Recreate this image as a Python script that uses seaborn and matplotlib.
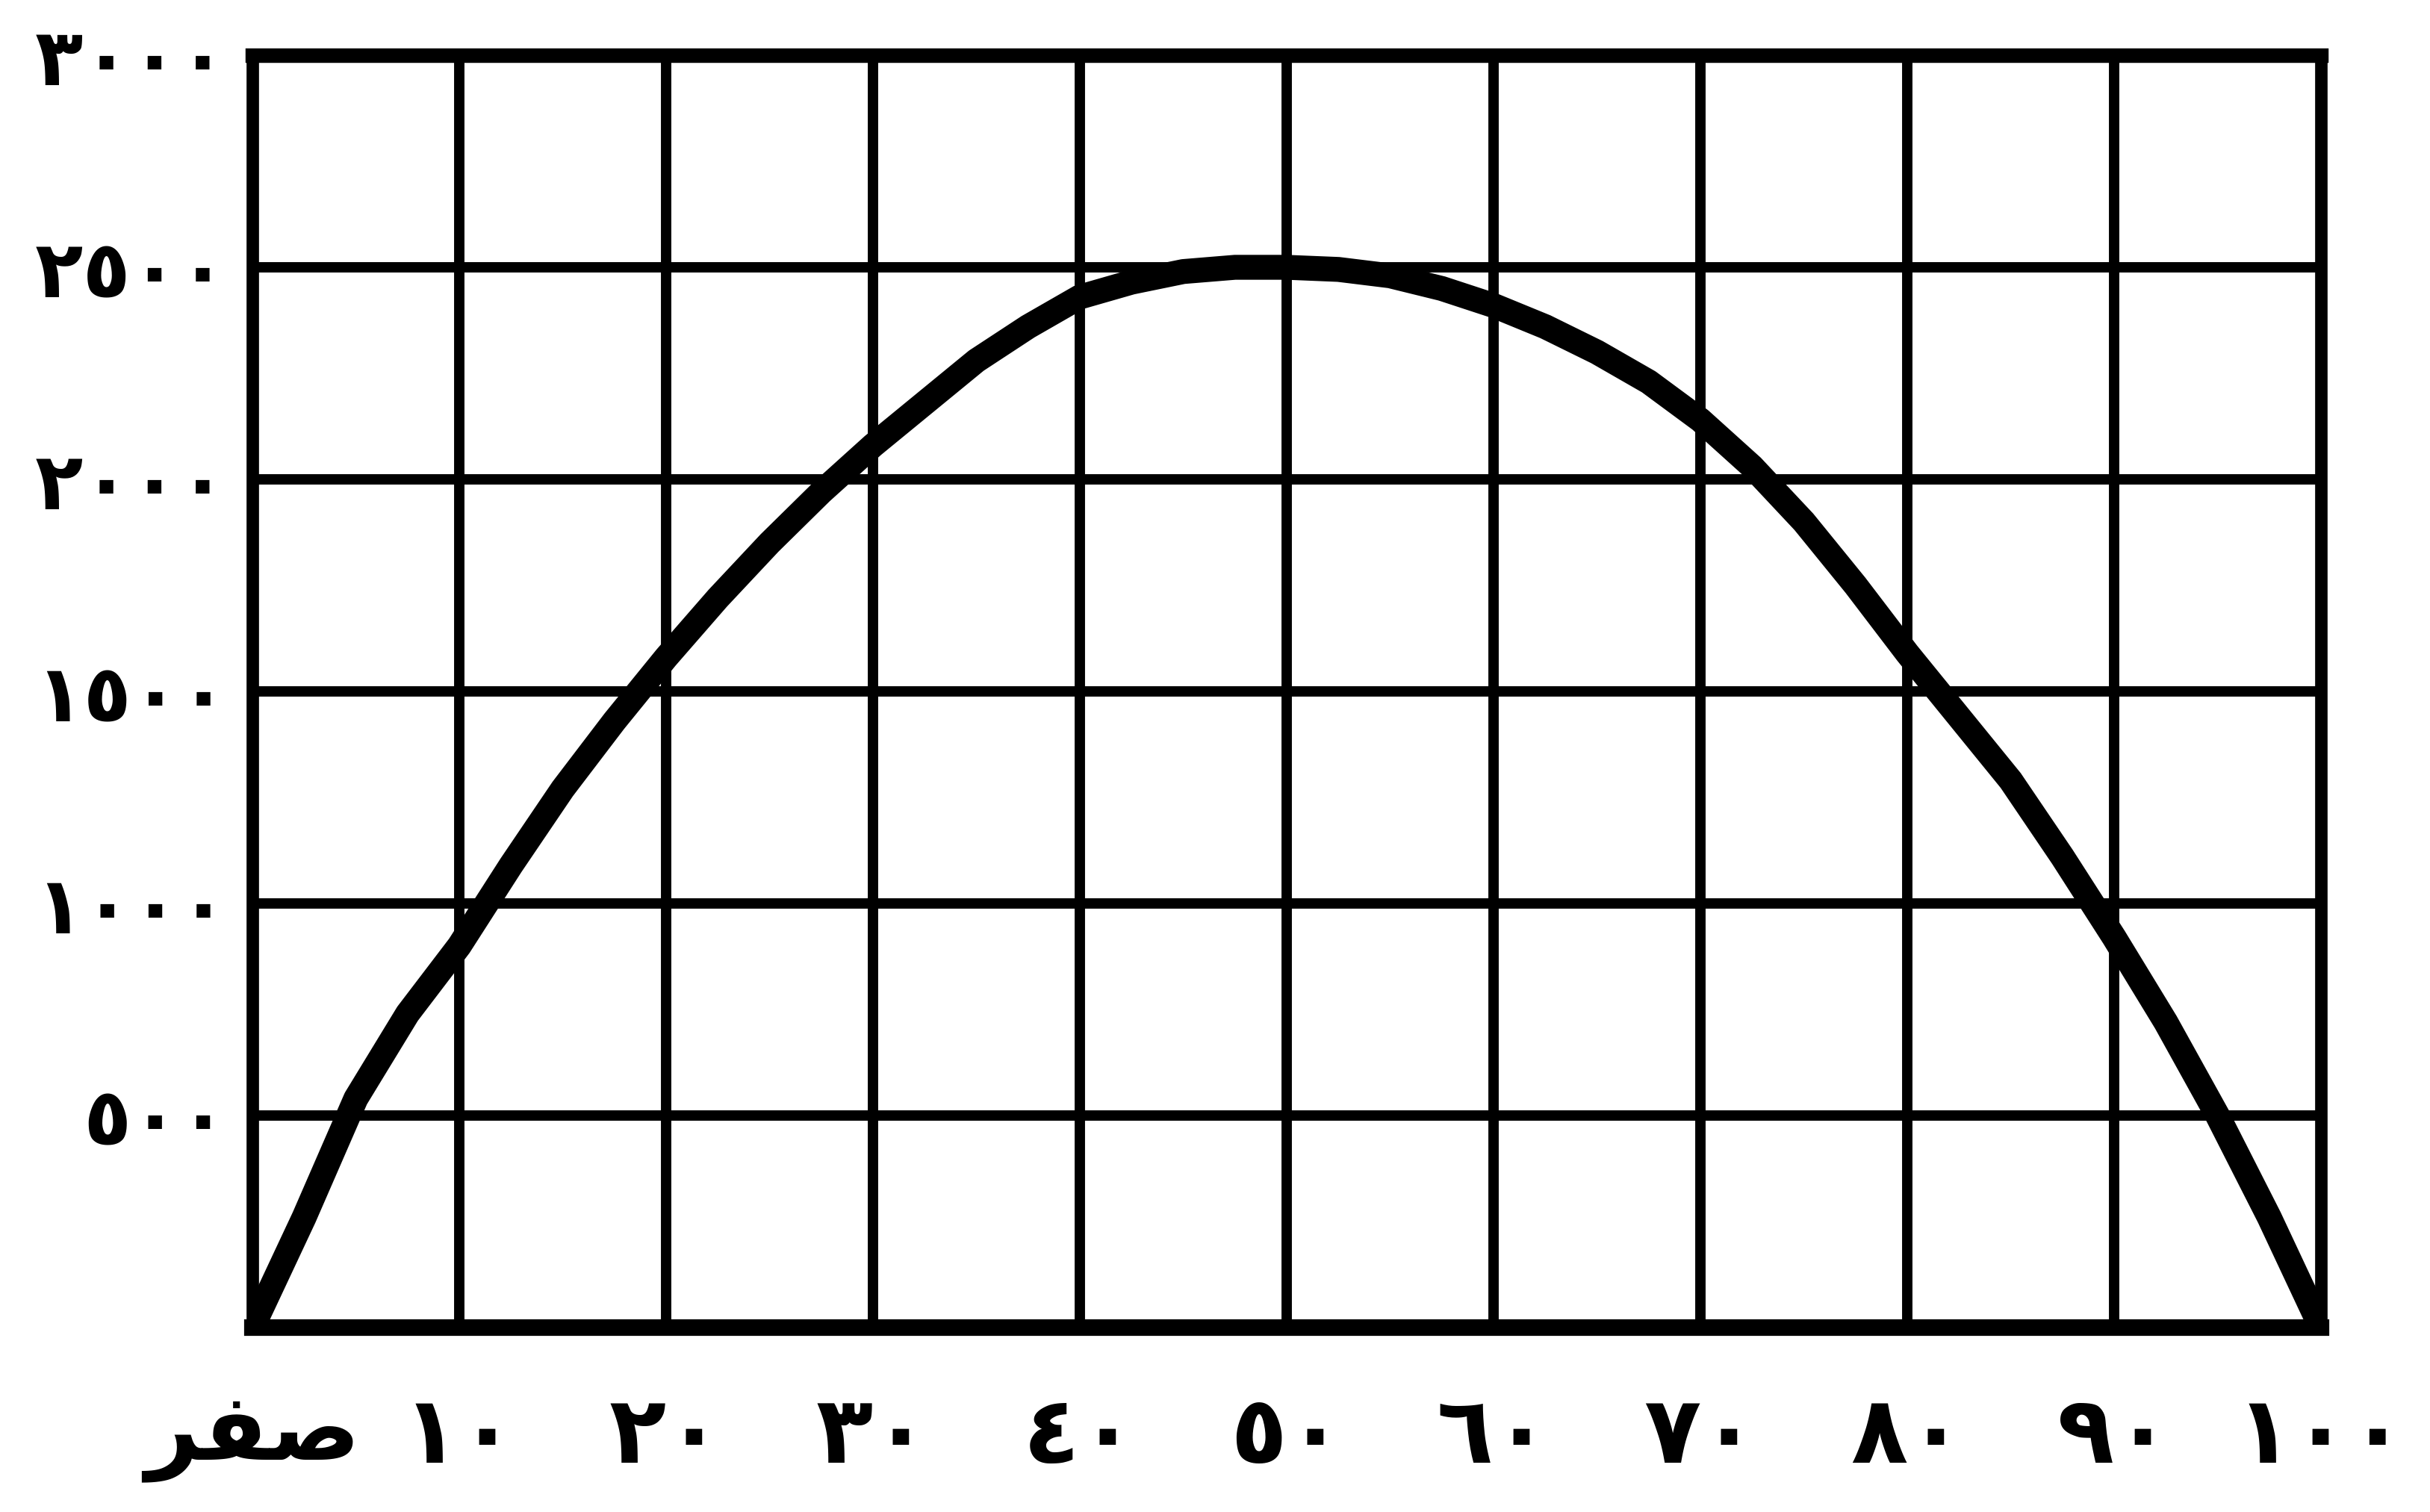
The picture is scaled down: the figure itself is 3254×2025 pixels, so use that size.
import matplotlib
matplotlib.use("Agg")
import matplotlib.pyplot as plt
import seaborn as sns
import pandas as pd

# Curve readings (x in steps of 2.5, y value)
x_vals = [0, 2.5, 5, 7.5, 10, 12.5, 15, 17.5, 20, 22.5, 25, 27.5, 30, 32.5, 35, 37.5, 40,
          42.5, 45, 47.5, 50, 52.5, 55, 57.5, 60, 62.5, 65, 67.5, 70, 72.5, 75, 77.5, 80,
          82.5, 85, 87.5, 90, 92.5, 95, 97.5, 100]
y_vals = [0, 260, 540, 740, 900, 1090, 1270, 1430, 1580, 1720, 1850, 1970, 2080, 2180, 2280, 2360, 2430,
          2465, 2490, 2500, 2500, 2495, 2480, 2450, 2410, 2360, 2300, 2230, 2140, 2030, 1900, 1750, 1590,
          1440, 1290, 1110, 920, 720, 500, 260, 0]

# Axis labels in Arabic-Indic digits; "zero" written as a word (pre-shaped glyphs, visual order)
x_ticks = [0, 10, 20, 30, 40, 50, 60, 70, 80, 90, 100]
x_labels = ["\uFEAE\uFED4\uFEBB", "١٠", "٢٠", "٣٠", "٤٠", "٥٠", "٦٠", "٧٠", "٨٠", "٩٠", "١٠٠"]
y_ticks = [500, 1000, 1500, 2000, 2500, 3000]
y_labels = ["٥٠٠", "١٠٠٠", "١٥٠٠", "٢٠٠٠", "٢٥٠٠", "٣٠٠٠"]

sns.set_theme(style="white")
plt.rcParams["font.family"] = ["DejaVu Sans"]

fig = plt.figure(figsize=(32.55, 20.25), dpi=100)
# axes box: left 338px, right 3108px, bottom 1778px, top 74px
ax = fig.add_axes([338 / 3255, 1 - 1778 / 2025, (3108 - 338) / 3255, (1778 - 74) / 2025])

df = pd.DataFrame({"x": x_vals, "y": y_vals})
sns.lineplot(data=df, x="x", y="y", ax=ax, color="black", linewidth=24,
             solid_capstyle="round", solid_joinstyle="round", zorder=5)

ax.set_xlim(0, 100)
ax.set_ylim(0, 3000)
ax.set_xticks(x_ticks)
ax.set_yticks([0] + y_ticks)
ax.set_xticklabels(x_labels, fontsize=90, fontweight="bold", color="black")
ax.set_yticklabels([""] + y_labels, fontsize=76, fontweight="bold", color="black")
ax.tick_params(axis="x", length=0, pad=62)
ax.tick_params(axis="y", length=0, pad=24)
ax.set_xlabel("")
ax.set_ylabel("")

ax.grid(True, color="black", linewidth=10)
ax.set_axisbelow(True)
for side, lw in [("left", 12), ("right", 12), ("top", 14), ("bottom", 16)]:
    ax.spines[side].set_visible(True)
    ax.spines[side].set_color("black")
    ax.spines[side].set_linewidth(lw)

fig.savefig("out.png", dpi=100, facecolor="white")
